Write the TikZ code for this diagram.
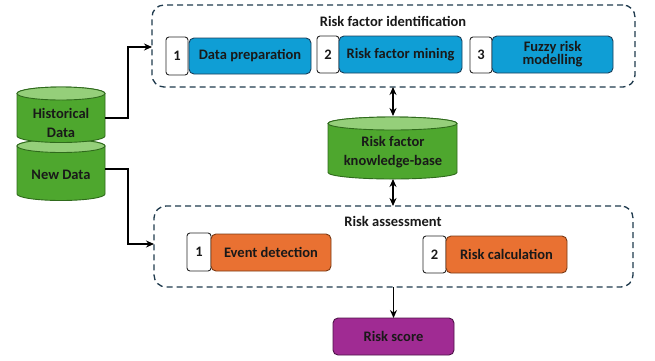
\documentclass[tikz,border=0pt]{standalone}
\usepackage{fontspec}
\setmainfont{Carlito}
\usetikzlibrary{arrows.meta}
\definecolor{cgreen}{HTML}{4EA72E}
\definecolor{cgreentop}{HTML}{95CF7A}
\definecolor{cgreenline}{HTML}{2F6A1C}
\definecolor{cblue}{HTML}{0F9ED5}
\definecolor{cblueline}{HTML}{1B3F5A}
\definecolor{corange}{HTML}{E97132}
\definecolor{corangeline}{HTML}{7A3A14}
\definecolor{cpurple}{HTML}{A02B93}
\definecolor{cpurpleline}{HTML}{4E1347}
\definecolor{cdash}{HTML}{1F3A4D}
\tikzset{
  dashbox/.style={draw=cdash, line width=1.3pt, dash pattern=on 6pt off 4pt, rounded corners=12pt, inner sep=0pt, outer sep=0pt},
  numbox/.style={draw=black!85, fill=white, line width=0.9pt, rounded corners=3pt, inner sep=0pt, outer sep=0pt, minimum width=22pt},
  bluebox/.style={draw=cblueline, fill=cblue, line width=0.9pt, rounded corners=5pt, inner sep=0pt, outer sep=0pt, align=center},
  orangebox/.style={draw=corangeline, fill=corange, line width=0.9pt, rounded corners=5pt, inner sep=0pt, outer sep=0pt, align=center},
  purplebox/.style={draw=cpurpleline, fill=cpurple, line width=0.9pt, rounded corners=5pt, inner sep=0pt, outer sep=0pt},
  cylbody/.style={fill=cgreen, draw=cgreenline, line width=0.9pt},
  cyltop/.style={fill=cgreentop, draw=cgreenline, line width=0.9pt},
  arr/.style={draw=black, line width=1.1pt, -{Stealth[length=8pt,width=7pt]}},
  darr/.style={draw=black, line width=1.1pt, {Stealth[length=8pt,width=7pt]}-{Stealth[length=8pt,width=7pt]}},
  lbl/.style={inner sep=0pt, outer sep=0pt, align=center}
}
\begin{document}
\begin{tikzpicture}[x=1pt,y=-1pt, font=\bfseries\fontsize{14.5}{16}\selectfont, text=black!90]
\useasboundingbox (0,0) rectangle (655,360);

% dashed containers
\node[dashbox, minimum width=483pt, minimum height=82pt, anchor=north west] (rfi) at (152,5) {};
\node[lbl] (rfit) at (393,21) {Risk factor identification};
\node[dashbox, minimum width=479pt, minimum height=81pt, anchor=north west] (ra) at (154,206) {};
\node[lbl] (rat) at (393,221) {Risk assessment};

% risk factor identification steps
\node[numbox, minimum height=38pt] (n1) at (177,56) {1};
\node[bluebox, minimum width=122pt, minimum height=36pt] (dp) at (250,56) {Data preparation};
\node[numbox, minimum height=37pt] (n2) at (328,54.5) {2};
\node[bluebox, minimum width=123pt, minimum height=37pt] (rfm) at (400.5,54.5) {Risk factor mining};
\node[numbox, minimum height=36pt] (n3) at (481,55) {3};
\node[bluebox, minimum width=121pt, minimum height=37pt] (frm) at (552.5,54.5) {Fuzzy risk\\[-3pt]modelling};

% risk assessment steps
\node[numbox, minimum width=24pt, minimum height=38pt] (m1) at (199,252) {1};
\node[orangebox, minimum width=120pt, minimum height=37pt] (ed) at (271,252.5) {Event detection};
\node[numbox, minimum width=23pt, minimum height=37pt] (m2) at (434.5,254.5) {2};
\node[orangebox, minimum width=121pt, minimum height=37pt] (rc) at (506.5,254.5) {Risk calculation};

% risk score
\node[purplebox, minimum width=121pt, minimum height=37pt] (score) at (393.5,336.5) {Risk score};

% left cylinders (New Data behind, Historical in front)
\filldraw[cylbody] (17,146) -- (17,194) arc[start angle=180, end angle=360, x radius=44pt, y radius=6.5pt] -- (105,146) arc[start angle=0, end angle=180, x radius=44pt, y radius=6.5pt] -- cycle;
\filldraw[cyltop] (61,146) ellipse [x radius=44pt, y radius=6.5pt];
\filldraw[cylbody] (17,93.5) -- (17,136) arc[start angle=180, end angle=360, x radius=44pt, y radius=6.5pt] -- (105,93.5) arc[start angle=0, end angle=180, x radius=44pt, y radius=6.5pt] -- cycle;
\filldraw[cyltop] (61,93.5) ellipse [x radius=44pt, y radius=6.5pt];
\node[lbl, minimum width=88pt] (hist) at (61,123) {Historical\\[3pt]Data};
\node[lbl, minimum width=88pt] (new) at (61,175) {New Data};

% knowledge base cylinder
\filldraw[cylbody] (328,123.5) -- (328,172.5) arc[start angle=180, end angle=360, x radius=64.5pt, y radius=6.5pt] -- (457,123.5) arc[start angle=0, end angle=180, x radius=64.5pt, y radius=6.5pt] -- cycle;
\filldraw[cyltop] (392.5,123.5) ellipse [x radius=64.5pt, y radius=6.5pt];
\node[lbl] (kb) at (393,152) {Risk factor\\[3pt]knowledge-base};
\coordinate (kbtop) at (393,116);
\coordinate (kbbot) at (393,179);

% connectors
\draw[arr] ([yshift=5pt]hist.east) -- ++(23,0) |- ([yshift=-1pt]rfi.west);
\draw[arr] ([yshift=6pt]new.east) -- ++(23,0) |- ([yshift=2.5pt]ra.west);
\draw[darr] (rfi.south -| kbtop) -- (kbtop);
\draw[darr] (kbbot) -- (ra.north -| kbbot);
\draw[arr] (ra.south -| score.north) -- (score.north);
\end{tikzpicture}
\end{document}
